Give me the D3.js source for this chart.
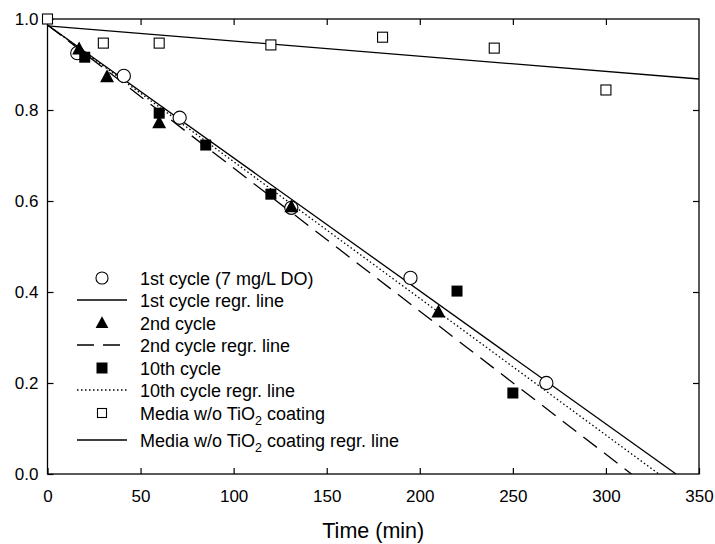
<!DOCTYPE html>
<html><head><meta charset="utf-8">
<script src="https://cdn.jsdelivr.net/npm/d3@7"></script>
<style>body{margin:0;background:#fff}svg{display:block}text{font-family:Arial,"Liberation Sans",sans-serif;fill:#000}</style>
</head><body>
<svg id="c" width="715" height="544"></svg>
<script>
// ---- data ----
const cycle1Time = [16, 41, 71, 131, 195, 268];
const cycle1Conc = [0.925, 0.875, 0.783, 0.585, 0.431, 0.200];
const cycle2Time = [17, 32, 60, 131, 210];
const cycle2Conc = [0.934, 0.873, 0.772, 0.587, 0.356];
const cycle10Time = [20, 60, 85, 120, 220, 250];
const cycle10Conc = [0.916, 0.793, 0.723, 0.615, 0.402, 0.178];
const mediaTime = [0, 30, 60, 120, 180, 240, 300];
const mediaConc = [1.000, 0.947, 0.947, 0.943, 0.960, 0.936, 0.844];
// regression lines: intercept, slope
const regNames = ["1st", "2nd", "10th", "media"];
const regIntercept = [0.987, 0.987, 0.987, 0.985];
const regSlope = [-0.002923, -0.003146, -0.003005, -0.000334];
const xTicks = [0, 50, 100, 150, 200, 250, 300, 350];
const yTicks = [0.0, 0.2, 0.4, 0.6, 0.8, 1.0];
const legendLabels = ["1st cycle (7 mg/L DO)", "1st cycle regr. line", "2nd cycle", "2nd cycle regr. line",
  "10th cycle", "10th cycle regr. line", "Media w/o TiO|2| coating", "Media w/o TiO|2| coating regr. line"];

const svg = d3.select("#c");
const L = 47.5, R = 699, T = 19, B = 474;
const x = d3.scaleLinear().domain([0, 350]).range([L, R]);
const y = d3.scaleLinear().domain([0, 1]).range([B, T]);

// axes
const fmtY = d3.format(".1f");
svg.append("g").attr("transform", `translate(0,${B})`)
  .call(d3.axisBottom(x).tickValues(xTicks).tickSize(-6).tickPadding(16).tickFormat(d3.format("d")))
  .call(g => g.selectAll("text").attr("font-size", 17).attr("font-family", "Arial, Liberation Sans"));
svg.append("g").attr("transform", `translate(0,${T})`)
  .call(d3.axisTop(x).tickValues(xTicks.slice(1, -1)).tickSize(-6).tickFormat(""));
svg.append("g").attr("transform", `translate(${L},0)`)
  .call(d3.axisLeft(y).tickValues(yTicks).tickSize(-6).tickPadding(9).tickFormat(fmtY))
  .call(g => g.selectAll("text").attr("font-size", 17).attr("font-family", "Arial, Liberation Sans"));
svg.append("g").attr("transform", `translate(${R},0)`)
  .call(d3.axisRight(y).tickValues(yTicks.slice(1, -1)).tickSize(-6).tickFormat(""));
svg.selectAll(".domain").remove();
svg.selectAll(".tick line").attr("stroke", "#000").attr("stroke-width", 1.2);
svg.append("rect").attr("x", L).attr("y", T).attr("width", R - L).attr("height", B - T)
  .attr("fill", "none").attr("stroke", "#000").attr("stroke-width", 1.3);

// regression lines
const dashes = [null, "17,9", "1.5,2.5", null];
svg.append("defs").append("clipPath").attr("id", "clip").append("rect")
  .attr("x", L).attr("y", T).attr("width", R - L).attr("height", B - T);
const lg = svg.append("g").attr("clip-path", "url(#clip)");
regNames.forEach((n, i) => {
  const x0 = Math.min(350, -regIntercept[i] / regSlope[i]);
  lg.append("line")
    .attr("x1", x(0)).attr("y1", y(regIntercept[i]))
    .attr("x2", x(x0)).attr("y2", y(regIntercept[i] + regSlope[i] * x0))
    .attr("stroke", "#000").attr("stroke-width", 1.3)
    .attr("stroke-dasharray", dashes[i]);
});

// markers
function marker(g, type, cx, cy, s) {
  if (type === "circle") g.append("circle").attr("cx", cx).attr("cy", cy).attr("r", s * 0.55)
    .attr("fill", "#fff").attr("stroke", "#000").attr("stroke-width", 1.1);
  else if (type === "tri") g.append("path")
    .attr("d", `M${cx},${cy - s * 0.62}L${cx + s * 0.58},${cy + s * 0.45}L${cx - s * 0.58},${cy + s * 0.45}Z`).attr("fill", "#000");
  else if (type === "fsq") g.append("rect").attr("x", cx - s / 2).attr("y", cy - s / 2).attr("width", s).attr("height", s).attr("fill", "#000");
  else if (type === "osq") g.append("rect").attr("x", cx - s / 2 + 0.5).attr("y", cy - s / 2 + 0.5).attr("width", s - 1).attr("height", s - 1)
    .attr("fill", "#fff").attr("stroke", "#000").attr("stroke-width", 1.1);
}
const mg = svg.append("g");
mediaTime.forEach((t, i) => marker(mg, "osq", x(t), y(mediaConc[i]), 11));
cycle1Time.forEach((t, i) => marker(mg, "circle", x(t), y(cycle1Conc[i]), 12));
cycle2Time.forEach((t, i) => marker(mg, "tri", x(t), y(cycle2Conc[i]), 12));
cycle10Time.forEach((t, i) => marker(mg, "fsq", x(t), y(cycle10Conc[i]), 11));

// legend
const legY = [278, 300, 323, 345, 368, 390, 413, 440];
const legKind = ["circle", 0, "tri", 1, "fsq", 2, "osq", 3];
const leg = svg.append("g");
legendLabels.forEach((lab, i) => {
  const k = legKind[i], cy = legY[i];
  if (typeof k === "number") {
    leg.append("line").attr("x1", 77).attr("x2", 127).attr("y1", cy).attr("y2", cy)
      .attr("stroke", "#000").attr("stroke-width", 1.3).attr("stroke-dasharray", dashes[k]);
  } else marker(leg, k, 102, cy, k === "osq" ? 10 : 11);
  const tx = leg.append("text").attr("x", 140).attr("y", cy + 6.5).attr("font-size", 18);
  lab.split("|").forEach((part, j) => {
    const ts = tx.append("tspan").text(part);
    if (j === 1) ts.attr("font-size", 12.5).attr("dy", 5);
    if (j === 2) ts.attr("dy", -5);
  });
});

// axis title
svg.append("text").attr("x", x(175)).attr("y", 538).attr("text-anchor", "middle").attr("font-size", 21.5).text("Time (min)");
</script>
</body></html>
